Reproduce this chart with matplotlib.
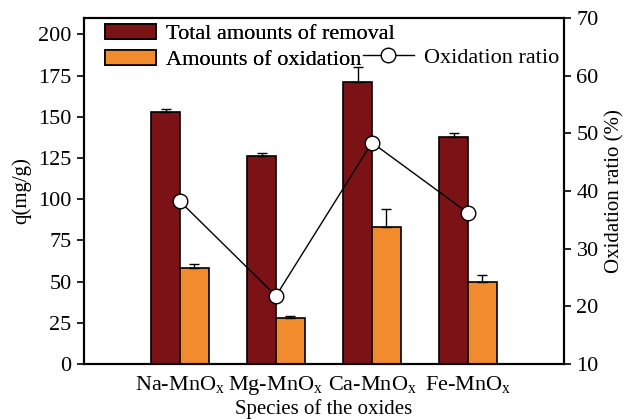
import matplotlib
matplotlib.use("Agg")
import matplotlib.pyplot as plt
import numpy as np
from matplotlib.lines import Line2D
from matplotlib.patches import Patch

plt.rcParams["font.family"] = ["Liberation Serif", "DejaVu Serif"]
plt.rcParams["mathtext.fontset"] = "custom"
plt.rcParams["mathtext.rm"] = "Liberation Serif"
plt.rcParams["mathtext.it"] = "Liberation Serif:italic"

# data
species = ["Na-MnO$_\\mathrm{x}$", "Mg-MnO$_\\mathrm{x}$",
           "Ca-MnO$_\\mathrm{x}$", "Fe-MnO$_\\mathrm{x}$"]
total_removal = [153.0, 126.0, 171.0, 137.5]
total_err = [1.5, 2.0, 9.0, 2.5]
oxidation = [58.5, 27.8, 83.0, 50.0]
oxidation_err = [2.3, 1.5, 11.0, 4.0]
ratio = [38.2, 21.8, 48.4, 36.2]

dark = "#7A1216"
orange = "#F28B2C"
fs = 16
lfs = 15

fig = plt.figure(figsize=(6.3, 4.19), dpi=100)
ax = fig.add_axes([0.1333, 0.1313, 0.7619, 0.8257])
ax2 = ax.twinx()

x = np.arange(1, len(species) + 1)
w = 0.3
zeros = np.zeros(len(x))

ax.bar(x - w / 2, total_removal, w, color=dark, edgecolor="black", linewidth=1.2, zorder=2)
ax.errorbar(x - w / 2, total_removal, yerr=[zeros, total_err], fmt="none",
            ecolor="black", elinewidth=1.0, capsize=3.5, capthick=1.0, zorder=3)
ax.bar(x + w / 2, oxidation, w, color=orange, edgecolor="black", linewidth=1.2, zorder=2)
ax.errorbar(x + w / 2, oxidation, yerr=[zeros, oxidation_err], fmt="none",
            ecolor="black", elinewidth=1.0, capsize=3.5, capthick=1.0, zorder=3)

ax2.plot(x, ratio, color="black", linewidth=1.0, marker="o", markersize=10.5,
         markerfacecolor="white", markeredgecolor="black", markeredgewidth=1.0, zorder=4)

ax.set_xlim(0, 5)
ax.set_ylim(0, 210)
ax.set_yticks(np.arange(0, 201, 25))
ax2.set_ylim(10, 70)
ax2.set_yticks(np.arange(10, 71, 10))

ax.set_xticks(x)
ax.set_xticklabels(species, fontsize=fs)
ax.tick_params(axis="x", length=0, pad=7)
ax.tick_params(axis="y", labelsize=fs, length=5, width=1.2, direction="out", pad=4)
ax2.tick_params(axis="y", labelsize=fs, length=5, width=1.2, direction="out", pad=4)

ax.set_xlabel("Species of the oxides", fontsize=lfs, labelpad=2)
ax.set_ylabel("q(mg/g)", fontsize=lfs, labelpad=5)
ax2.set_ylabel("Oxidation ratio (%)", fontsize=lfs, labelpad=5)

for a in (ax, ax2):
    for sp in a.spines.values():
        sp.set_linewidth(1.5)

bar_handles = [
    Patch(facecolor=dark, edgecolor="black", linewidth=1.2),
    Patch(facecolor=orange, edgecolor="black", linewidth=1.2),
]
leg1 = ax.legend(bar_handles, ["Total amounts of removal", "Amounts of oxidation"],
                 loc="upper left", bbox_to_anchor=(0.044, 0.983), frameon=False,
                 fontsize=fs, handlelength=2.3, handleheight=0.65,
                 handletextpad=0.45, labelspacing=0.25, borderaxespad=0.0,
                 borderpad=0.0)
ax.add_artist(leg1)

line_handle = Line2D([0], [0], color="black", linewidth=1.0, marker="o", markersize=10.5,
                     markerfacecolor="white", markeredgecolor="black")
ax2.legend([line_handle], ["Oxidation ratio"], loc="center left",
           bbox_to_anchor=(0.581, 0.885), frameon=False, fontsize=fs,
           handlelength=2.3, handletextpad=0.45, borderaxespad=0.0, borderpad=0.0)

fig.savefig("out.png", dpi=100)
